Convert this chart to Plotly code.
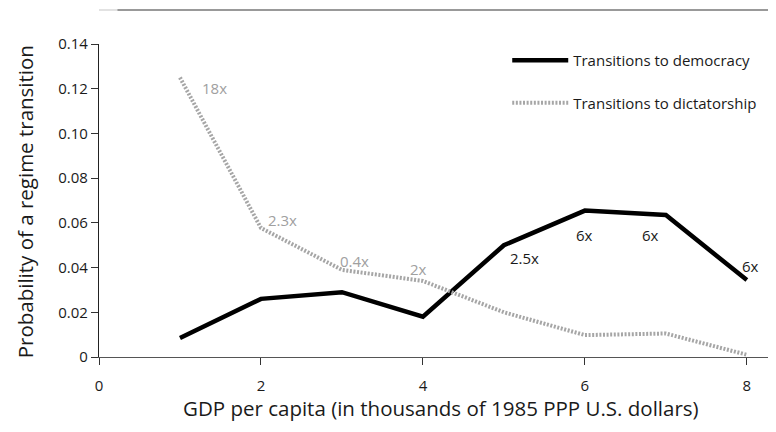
import plotly.graph_objects as go

gdp = [1, 2, 3, 4, 5, 6, 7, 8]
to_democracy = [0.0085, 0.026, 0.029, 0.018, 0.050, 0.0655, 0.0635, 0.0344]
to_dictatorship = [0.125, 0.0577, 0.039, 0.034, 0.020, 0.0098, 0.0105, 0.001]

dict_labels = ["18x", "2.3x", "0.4x", "2x"]
dict_label_x = [1.43, 2.26, 3.16, 3.94]
dict_label_y = [0.1205, 0.0612, 0.0429, 0.0394]

dem_labels = ["2.5x", "6x", "6x", "6x"]
dem_label_x = [5.25, 5.99, 6.81, 8.04]
dem_label_y = [0.0443, 0.0546, 0.0546, 0.0407]

x_ticks = [0, 2, 4, 6, 8]
y_ticks = [0, 0.02, 0.04, 0.06, 0.08, 0.10, 0.12, 0.14]
y_tick_text = ["0", "0.02", "0.04", "0.06", "0.08", "0.10", "0.12", "0.14"]

x_title = "GDP per capita (in thousands of 1985 PPP U.S. dollars)"
y_title = "Probability of a regime transition"

FONT = "Open Sans"
TXT = "#1a1a1a"

fig = go.Figure()
fig.add_trace(go.Scatter(
    x=gdp, y=to_democracy, mode="lines", name="Transitions to democracy",
    line=dict(color="black", width=4.5), legendgroup="a", cliponaxis=False,
))
fig.add_trace(go.Scatter(
    x=gdp, y=to_dictatorship, mode="lines", name="Transitions to dictatorship",
    line=dict(color="#a6a6a6", width=4, dash="2px,1.6px"), legendgroup="b", cliponaxis=False,
))

for t, x, y in zip(dict_labels, dict_label_x, dict_label_y):
    fig.add_annotation(x=x, y=y, text=t, showarrow=False,
                       font=dict(family=FONT, size=15, color="#a0a0a0"))
for t, x, y in zip(dem_labels, dem_label_x, dem_label_y):
    fig.add_annotation(x=x, y=y, text=t, showarrow=False,
                       font=dict(family=FONT, size=15, color=TXT))

# axis titles
fig.add_annotation(xref="paper", yref="paper", x=0.505, y=-0.163, text=x_title,
                   showarrow=False, xanchor="center", yanchor="middle",
                   font=dict(family=FONT, size=20.5, color=TXT))
fig.add_annotation(xref="paper", yref="paper", x=-0.109, y=0.495, text=y_title,
                   showarrow=False, xanchor="center", yanchor="middle", textangle=-90,
                   borderpad=0,
                   font=dict(family=FONT, size=20.5, color=TXT))

# decorative top rule
rule_y = 1.0 + 34 / 313
fig.add_shape(type="line", xref="paper", yref="paper", x0=0.027, x1=1.0,
              y0=rule_y, y1=rule_y, line=dict(color="#777", width=1.5))
fig.add_shape(type="line", xref="paper", yref="paper", x0=0.0, x1=0.027,
              y0=rule_y, y1=rule_y, line=dict(color="#d8d8d8", width=1.5))

fig.update_layout(
    width=768, height=424,
    margin=dict(l=91, r=0, t=36, b=75),
    paper_bgcolor="white", plot_bgcolor="white",
    font=dict(family=FONT, size=15, color=TXT),
    showlegend=True,
    legend=dict(x=0.603, y=1.0, xanchor="left", yanchor="top",
                bgcolor="rgba(0,0,0,0)", font=dict(family=FONT, size=15, color=TXT),
                tracegroupgap=20, itemwidth=56),
    xaxis=dict(range=[0, 8.36], tickvals=x_ticks, showgrid=False, zeroline=False,
               showline=True, linecolor="#555", linewidth=1.2, automargin=False,
               ticks="outside", ticklen=7, tickcolor="#333", tickwidth=1.2,
               ticklabelstandoff=8,
               tickfont=dict(family=FONT, size=15, color=TXT)),
    yaxis=dict(range=[0, 0.14], tickvals=y_ticks, ticktext=y_tick_text, showgrid=False,
               zeroline=False, showline=True, linecolor="#222", linewidth=1.2,
               automargin=False,
               ticks="outside", ticklen=7, tickcolor="#333", tickwidth=1.2,
               ticklabelstandoff=0,
               tickfont=dict(family=FONT, size=15, color=TXT)),
)

fig.write_html("out.html")
